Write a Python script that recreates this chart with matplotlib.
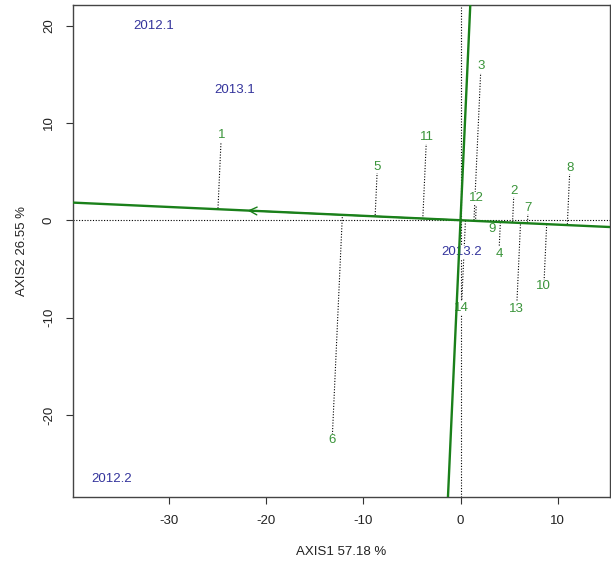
import numpy as np
import matplotlib
matplotlib.use("Agg")
import matplotlib.pyplot as plt

plt.rcParams['font.family'] = ['Liberation Sans', 'DejaVu Sans']
plt.rcParams['axes.unicode_minus'] = False

# Year (column) labels
year_labels = ["2012.1", "2013.1", "2013.2", "2012.2"]
year_x = [-31.6, -23.2, 0.1, -35.9]
year_y = [20.0, 13.4, -3.3, -26.6]

# Numbered (row) labels
num_labels = ["1", "2", "3", "4", "5", "6", "7", "8", "9", "10", "11", "12", "13", "14"]
num_x = [-24.6, 5.5, 2.1, 3.95, -8.55, -13.2, 6.96, 11.25, 3.26, 8.57, -3.5, 1.65, 5.77, 0.1]
num_y = [8.75, 3.05, 15.8, -3.46, 5.5, -22.6, 1.3, 5.4, -0.9, -6.8, 8.5, 2.26, -9.1, -9.0]

# Rotated axis angle (degrees) and arrow length along it
axis_angle_deg = -2.6
arrow_len = -22.2

x_ticks = [-30, -20, -10, 0, 10]
y_ticks = [-20, -10, 0, 10, 20]
xlim = (-39.85, 15.35)
ylim = (-28.4, 22.1)

fig = plt.figure(figsize=(6.11, 5.64), dpi=100)
ax = fig.add_axes([0.1195, 0.1193, 0.8785, 0.8717])
ax.set_xlim(*xlim)
ax.set_ylim(*ylim)

line_green = "#1a801a"
text_green = "#3a943a"
blue = "#34349c"
txt_col = "#222222"

# reference dotted axes
ax.axhline(0, color="black", lw=0.8, ls=(0, (1, 1.5)), zorder=1)
ax.axvline(0, color="black", lw=0.8, ls=(0, (1, 1.5)), zorder=1)

th = np.deg2rad(axis_angle_deg)
u = np.array([np.cos(th), np.sin(th)])
v = np.array([-np.sin(th), np.cos(th)])
ax.axline((0, 0), (u[0], u[1]), color=line_green, lw=1.7, zorder=3)
ax.axline((0, 0), (v[0], v[1]), color=line_green, lw=1.7, zorder=3)

# arrow along rotated axis
ax.annotate("", xy=(arrow_len * u[0], arrow_len * u[1]), xytext=(0, 0),
            arrowprops=dict(arrowstyle="->", color=line_green, lw=1.0,
                            mutation_scale=14), zorder=3)

# projections of numbered labels onto the rotated axis
for lab, x, y in zip(num_labels, num_x, num_y):
    p = np.array([x, y])
    t = p @ u
    foot = t * u
    ax.plot([x, foot[0]], [y, foot[1]], color="black", lw=0.8,
            ls=(0, (1, 1.5)), zorder=1)
    ax.text(x, y, lab, color=text_green, fontsize=9.5, ha="center", va="center",
            zorder=2, bbox=dict(facecolor="white", edgecolor="none", pad=0.5))

for lab, x, y in zip(year_labels, year_x, year_y):
    ax.text(x, y, lab, color=blue, fontsize=9.5, ha="center", va="center", zorder=2,
            bbox=dict(facecolor="white", edgecolor="none", pad=0.5))

ax.set_xticks(x_ticks)
ax.set_yticks(y_ticks)
ax.set_yticklabels([str(t) for t in y_ticks], rotation=90, va="center")
ax.tick_params(labelsize=9.5, length=5, color="#333333", labelcolor=txt_col, pad=8)
for s in ax.spines.values():
    s.set_color("#444444")
    s.set_linewidth(1.0)
ax.set_xlabel("AXIS1 57.18 %", fontsize=9.5, labelpad=14, color=txt_col)
ax.set_ylabel("AXIS2 26.55 %", fontsize=9.5, labelpad=11, color=txt_col)

fig.savefig("out.png", dpi=100)
